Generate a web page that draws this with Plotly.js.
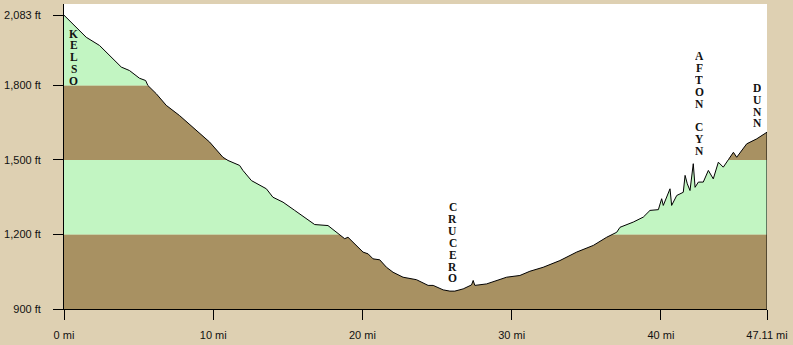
<!DOCTYPE html>
<html>
<head>
<meta charset="utf-8">
<script src="https://cdn.plot.ly/plotly-3.0.1.min.js"></script>
<style>html,body{margin:0;padding:0;background:#DED0B2;}#chart{width:793px;height:345px;}</style>
</head>
<body>
<div id="chart"></div>
<script>
// Distance along route (mi) and elevation (ft)
var distance = [0,0.82,1.49,2.38,3.05,3.84,4.39,5.06,5.47,5.62,6.18,6.85,7.74,8.87,9.76,10.65,10.99,11.77,11.99,12.56,13.56,14.00,14.68,15.46,16.24,16.80,17.69,18.26,18.48,18.81,19.03,19.48,20.04,20.38,20.71,21.16,21.61,22.05,22.72,23.62,24.40,24.74,25.41,25.86,26.19,26.75,27.31,27.42,27.53,28.32,29.43,29.66,30.55,31.22,32.11,33.23,34.35,35.47,36.37,37.04,37.26,38.15,38.82,39.27,39.83,40.05,40.16,40.61,40.72,41.06,41.50,41.62,41.77,41.95,42.17,42.29,42.51,42.84,43.18,43.51,43.85,44.18,44.52,44.86,45.08,45.75,46.42,46.97,47.11];
var elevation = [2083,2035,1994,1961,1921,1874,1860,1829,1820,1800,1767,1720,1679,1619,1572,1511,1498,1478,1458,1417,1384,1350,1330,1297,1263,1240,1236,1209,1196,1183,1189,1163,1129,1122,1102,1098,1068,1048,1028,1018,995,995,977,972,972,981,997,1015,995,1001,1022,1028,1035,1052,1068,1095,1129,1156,1189,1209,1229,1250,1270,1297,1300,1344,1317,1384,1317,1357,1370,1438,1404,1377,1485,1390,1411,1411,1458,1424,1491,1471,1501,1531,1511,1565,1585,1608,1612];

var yTickVals = [900,1200,1500,1800,2083];
var yTickText = ["900 ft","1,200 ft","1,500 ft","1,800 ft","2,083 ft"];
var xTickVals = [0,10,20,30,40,47.11];
var xTickText = ["0 mi","10 mi","20 mi","30 mi","40 mi","47.11 mi"];

// Elevation bands (ft) and their colours
var bandEdges = [900,1200,1500,1800,2128];
var bandColors = ["#A89162","#C2F5C2","#A89162","#C2F5C2"];

// Place labels: name, mile, elevation of first letter
var placeNames = ["KELSO","CRUCERO","AFTON CYN","DUNN"];
var placeMiles = [0.64,26.04,42.58,46.47];
var placeTopFt = [2011,1313,1921,1793];

var yMin = bandEdges[0], yMax = bandEdges[bandEdges.length-1];
var xMax = distance[distance.length-1];

var shapes = [];
for (var i=0;i<bandColors.length;i++){
  shapes.push({type:'rect',xref:'paper',yref:'y',x0:0,x1:1,y0:bandEdges[i],y1:bandEdges[i+1],
    fillcolor:bandColors[i],line:{width:0},layer:'below'});
}

var letterStepFt = 48;
var annotations = [];
for (var p=0;p<placeNames.length;p++){
  var chars = placeNames[p].split('');
  for (var c=0;c<chars.length;c++){
    if (chars[c]===' ') continue;
    annotations.push({x:placeMiles[p],y:placeTopFt[p]-c*letterStepFt,xref:'x',yref:'y',
      text:'<b>'+chars[c]+'</b>',showarrow:false,xanchor:'center',yanchor:'middle',
      height:11,borderpad:0,
      font:{family:'Liberation Serif, Times New Roman, serif',size:11.5,color:'#111'}});
  }
}

var topLine = distance.map(function(){return yMax;});
var lineX = distance.concat([xMax]);
var lineY = elevation.concat([yMin]);

var traces = [
  {x:distance,y:elevation,mode:'lines',line:{width:0,color:'rgba(0,0,0,0)'},hoverinfo:'skip',showlegend:false},
  {x:distance,y:topLine,mode:'lines',fill:'tonexty',fillcolor:'#FFFFFF',line:{width:0,color:'rgba(0,0,0,0)'},hoverinfo:'skip',showlegend:false},
  {x:lineX,y:lineY,mode:'lines',line:{width:1,color:'#000'},showlegend:false}
];

var layout = {
  width:793,height:345,
  margin:{l:64,r:26,t:4,b:36,pad:0},
  paper_bgcolor:'#DED0B2',plot_bgcolor:'#DED0B2',
  showlegend:false,
  xaxis:{range:[0,xMax],tickvals:xTickVals,ticktext:xTickText,ticks:'outside',ticklen:10,tickcolor:'#000',tickwidth:1,
    showline:true,linecolor:'#000',linewidth:1,showgrid:false,zeroline:false,ticklabelstandoff:6,
    tickfont:{family:'Liberation Sans, Arial, sans-serif',size:11,color:'#111'}},
  yaxis:{range:[yMin,yMax],tickvals:yTickVals,ticktext:yTickText,ticks:'outside',ticklen:10,tickcolor:'#000',tickwidth:1,
    showline:true,linecolor:'#000',linewidth:1,showgrid:false,zeroline:false,ticklabelstandoff:10,
    tickfont:{family:'Liberation Sans, Arial, sans-serif',size:11,color:'#111'}},
  shapes:shapes,
  annotations:annotations
};

Plotly.newPlot('chart',traces,layout,{displayModeBar:false,staticPlot:true});
</script>
</body>
</html>
